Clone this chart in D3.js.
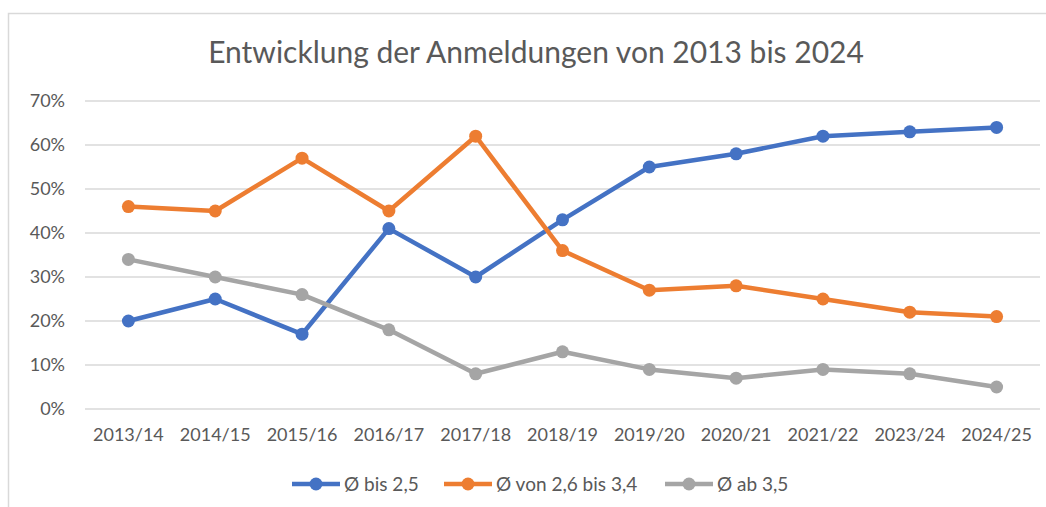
<!DOCTYPE html>
<html>
<head>
<meta charset="utf-8">
<script src="https://cdn.jsdelivr.net/npm/d3@7"></script>
<style>
  body { margin: 0; background: #fff; }
  text { font-family: Lato, "Open Sans", sans-serif; fill: #595959; }
</style>
</head>
<body>
<div id="chart-area"></div>
<script>
// data
var years = ["2013/14", "2014/15", "2015/16", "2016/17", "2017/18", "2018/19",
             "2019/20", "2020/21", "2021/22", "2023/24", "2024/25"];
var bis25 = [20, 25, 17, 41, 30, 43, 55, 58, 62, 63, 64];
var von26bis34 = [46, 45, 57, 45, 62, 36, 27, 28, 25, 22, 21];
var ab35 = [34, 30, 26, 18, 8, 13, 9, 7, 9, 8, 5];
var yTicks = [0, 10, 20, 30, 40, 50, 60, 70];

var series = [
    { name: "Ø bis 2,5", values: bis25, color: "#4472C4" },
    { name: "Ø von 2,6 bis 3,4", values: von26bis34, color: "#ED7D31" },
    { name: "Ø ab 3,5", values: ab35, color: "#A5A5A5" }
];

var W = 1046, H = 507;
var margin = { left: 85, right: 6, top: 101, bottom: 98 };
var width = W - margin.left - margin.right,
    height = H - margin.top - margin.bottom;

var svg = d3.select("#chart-area")
    .append("svg")
        .attr("width", W)
        .attr("height", H);

// chart frame
svg.append("rect")
    .attr("x", 8.5)
    .attr("y", 13.5)
    .attr("width", 1060)
    .attr("height", 520)
    .attr("fill", "none")
    .attr("stroke", "#D9D9D9")
    .attr("stroke-width", 1.5);

// title
svg.append("text")
    .attr("x", 536)
    .attr("y", 63)
    .attr("text-anchor", "middle")
    .attr("font-size", "30px")
    .text("Entwicklung der Anmeldungen von 2013 bis 2024");

var g = svg.append("g")
    .attr("transform", "translate(" + margin.left + "," + margin.top + ")");

var x = d3.scaleBand()
    .domain(years)
    .range([0, width]);

var y = d3.scaleLinear()
    .domain([0, 70])
    .range([height, 0]);

// gridlines
g.selectAll(".grid")
    .data(yTicks)
    .enter().append("line")
        .attr("class", "grid")
        .attr("x1", 0)
        .attr("x2", width)
        .attr("y1", function(d) { return y(d); })
        .attr("y2", function(d) { return y(d); })
        .attr("stroke", "#D9D9D9")
        .attr("stroke-width", 1.3);

// Y Axis
var yAxisCall = d3.axisLeft(y)
    .tickValues(yTicks)
    .tickSize(0)
    .tickPadding(20)
    .tickFormat(function(d) { return d + "%"; });
var yAxisGroup = g.append("g").call(yAxisCall);
yAxisGroup.select(".domain").remove();
yAxisGroup.selectAll("text").attr("font-size", "18px").attr("fill", "#595959");

// X Axis
var xAxisCall = d3.axisBottom(x).tickSize(0).tickPadding(19);
var xAxisGroup = g.append("g")
    .attr("transform", "translate(0," + height + ")")
    .call(xAxisCall);
xAxisGroup.select(".domain").remove();
xAxisGroup.selectAll("text").attr("font-size", "18px").attr("fill", "#595959");

var cx = function(d, i) { return x(years[i]) + x.bandwidth() / 2; };

var line = d3.line()
    .x(function(d, i) { return cx(d, i); })
    .y(function(d) { return y(d); });

series.forEach(function(s) {
    g.append("path")
        .datum(s.values)
        .attr("d", line)
        .attr("fill", "none")
        .attr("stroke", s.color)
        .attr("stroke-width", 4.5)
        .attr("stroke-linejoin", "round");

    g.selectAll(null)
        .data(s.values)
        .enter().append("circle")
            .attr("cx", cx)
            .attr("cy", function(d) { return y(d); })
            .attr("r", 6.5)
            .attr("fill", s.color);
});

// Legend
var legendX = [292, 444, 665];
var legend = svg.append("g").attr("transform", "translate(0,484)");
series.forEach(function(s, i) {
    var lg = legend.append("g").attr("transform", "translate(" + legendX[i] + ",0)");
    lg.append("line")
        .attr("x1", 0).attr("x2", 48)
        .attr("stroke", s.color)
        .attr("stroke-width", 4.5);
    lg.append("circle")
        .attr("cx", 24)
        .attr("r", 6.5)
        .attr("fill", s.color);
    lg.append("text")
        .attr("x", 52)
        .attr("dy", "0.35em")
        .attr("font-size", "19px")
        .text(s.name);
});
</script>
</body>
</html>
